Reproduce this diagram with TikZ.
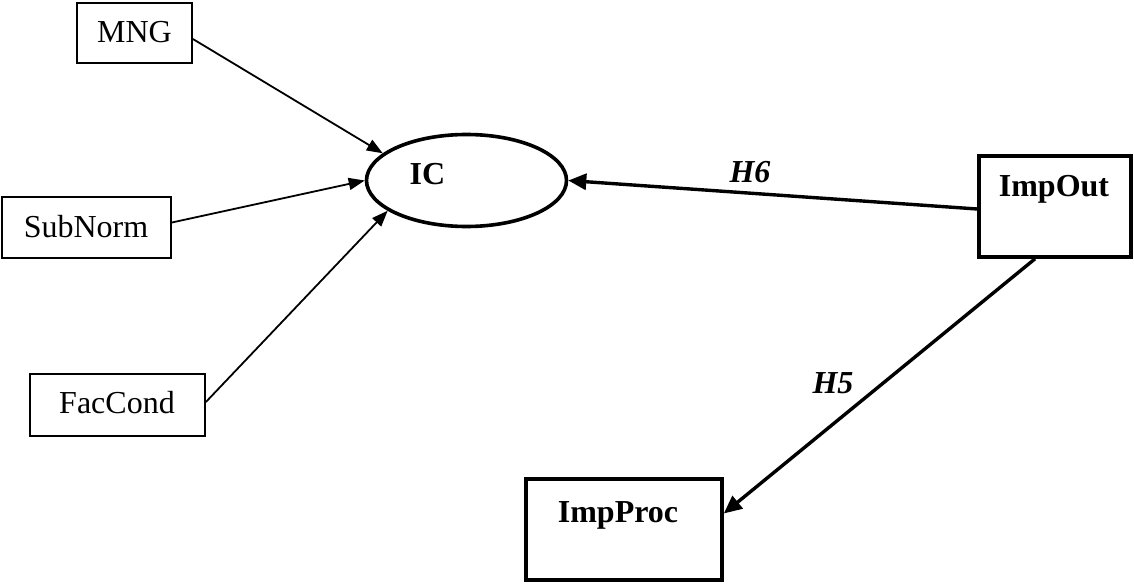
\documentclass[tikz,border=0pt]{standalone}
\usepackage{fontspec}
\setmainfont{Liberation Serif}
\usetikzlibrary{arrows.meta,calc,shapes.geometric}
\begin{document}
\begin{tikzpicture}[x=1pt,y=-1pt,
  thinbox/.style={draw,line width=1.8pt,inner sep=0pt},
  thickbox/.style={draw,line width=3.6pt,inner sep=0pt},
  txt/.style={font=\fontsize{32}{38}\selectfont,anchor=base,inner sep=0pt},
  btxt/.style={txt,font=\fontsize{32}{38}\selectfont\bfseries},
  htxt/.style={txt,font=\fontsize{32}{38}\selectfont\bfseries\itshape},
  thinarrow/.style={line width=1.8pt,-{Triangle[length=16pt,width=12pt]}},
  thickarrow/.style={line width=3.4pt,-{Triangle[length=18pt,width=16pt]}}]
\useasboundingbox (0,0) rectangle (1134,585);
% boxes
\node[thinbox,minimum width=115pt,minimum height=60pt] (mng) at (134.5,33) {};
\node[thinbox,minimum width=169pt,minimum height=61pt] (subnorm) at (86.5,227.5) {};
\node[thinbox,minimum width=175pt,minimum height=62pt] (faccond) at (117.5,405) {};
\node[thickbox,ellipse,minimum width=200pt,minimum height=92pt] (ic) at (466.5,180.5) {};
\node[thickbox,minimum width=152pt,minimum height=101pt] (impout) at (1055,206.5) {};
\node[thickbox,minimum width=196pt,minimum height=101pt] (impproc) at (624,529.5) {};
% texts
\node[txt] (tmng) at (134.5,42.7) {MNG};
\node[txt] (tsubnorm) at (86,237) {SubNorm};
\node[txt] (tfaccond) at (117,413) {FacCond};
\node[btxt] (tic) at (427.5,185) {IC};
\node[btxt] (timpout) at (1054,197) {ImpOut};
\node[btxt] (timpproc) at (618,522) {ImpProc};
\node[htxt] (h6) at (750,183) {H6};
\node[htxt] (h5) at (833,393) {H5};
% connectors
\draw[thinarrow] ($(mng.east)+(0,6)$) -- (ic.162);
\draw[thinarrow] ($(subnorm.east)+(0,-5)$) -- (ic.west);
\draw[thinarrow] ($(faccond.east)+(0,-3)$) -- (ic.201);
\draw[thickarrow] ($(impout.west)+(0,2.5)$) -- (ic.east);
\draw[thickarrow] ($(impout.south)+(-20,0)$) -- ($(impproc.east)+(0,-16)$);
\end{tikzpicture}
\end{document}
